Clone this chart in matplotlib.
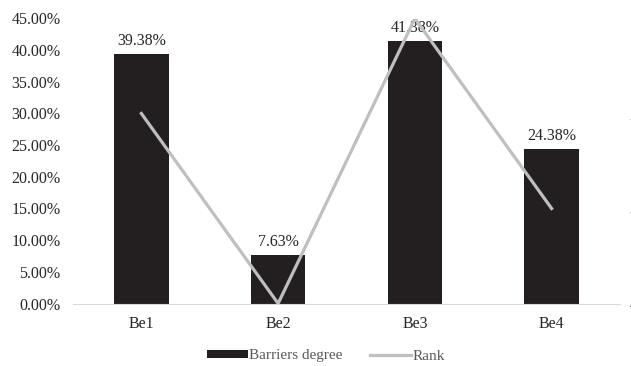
import matplotlib.pyplot as plt
from matplotlib.ticker import PercentFormatter

plt.rcParams['font.family'] = ['Liberation Serif', 'DejaVu Serif']

categories = ["Be1", "Be2", "Be3", "Be4"]
barriers_degree = [39.38, 7.63, 41.38, 24.38]
rank = [2, 4, 1, 3]

fig = plt.figure(figsize=(6.31, 3.66), dpi=100)
W, H = 631, 366
ax = fig.add_axes([73 / W, 1 - 303.5 / H, (620 - 73) / W, 285 / H])

x = range(len(categories))
bars = ax.bar(x, barriers_degree, width=0.40, color="#231f20", label="Barriers degree", zorder=2)
for xi, v in zip(x, barriers_degree):
    ax.annotate(f"{v:.2f}%", (xi, v), xytext=(0, 4), textcoords="offset points",
                ha="center", va="bottom", fontsize=11.5, color="#262626", zorder=5)

ax.set_xlim(-0.5, 3.5)
ax.set_ylim(0, 45)
ax.set_yticks(range(0, 46, 5))
ax.yaxis.set_major_formatter(PercentFormatter(decimals=2))
ax.set_xticks(list(x))
ax.set_xticklabels(categories)
ax.tick_params(axis="both", length=0, labelsize=11.5, colors="#262626")
ax.tick_params(axis="y", pad=9)
ax.tick_params(axis="x", pad=9)
for side in ("top", "right", "left"):
    ax.spines[side].set_visible(False)
ax.spines["bottom"].set_color("#d9d9d9")

ax2 = ax.twinx()
line, = ax2.plot(list(x), rank, color="#bfbfbf", linewidth=2.3, label="Rank", zorder=3)
ax2.set_ylim(4, 1)
ax2.set_yticks([1, 2, 3, 4])
ax2.tick_params(axis="y", length=0, labelsize=11.5, colors="#262626", pad=7)
for side in ("top", "right", "left", "bottom"):
    ax2.spines[side].set_visible(False)

fig.legend(handles=[bars, line], labels=["Barriers degree", "Rank"], loc="center",
           bbox_to_anchor=(326 / W, 1 - 356 / H), ncol=2, frameon=False,
           fontsize=11, labelcolor="#595959", handlelength=2.7, handletextpad=0.1,
           columnspacing=1.8, handleheight=0.45)

fig.savefig("out.png", dpi=100)
